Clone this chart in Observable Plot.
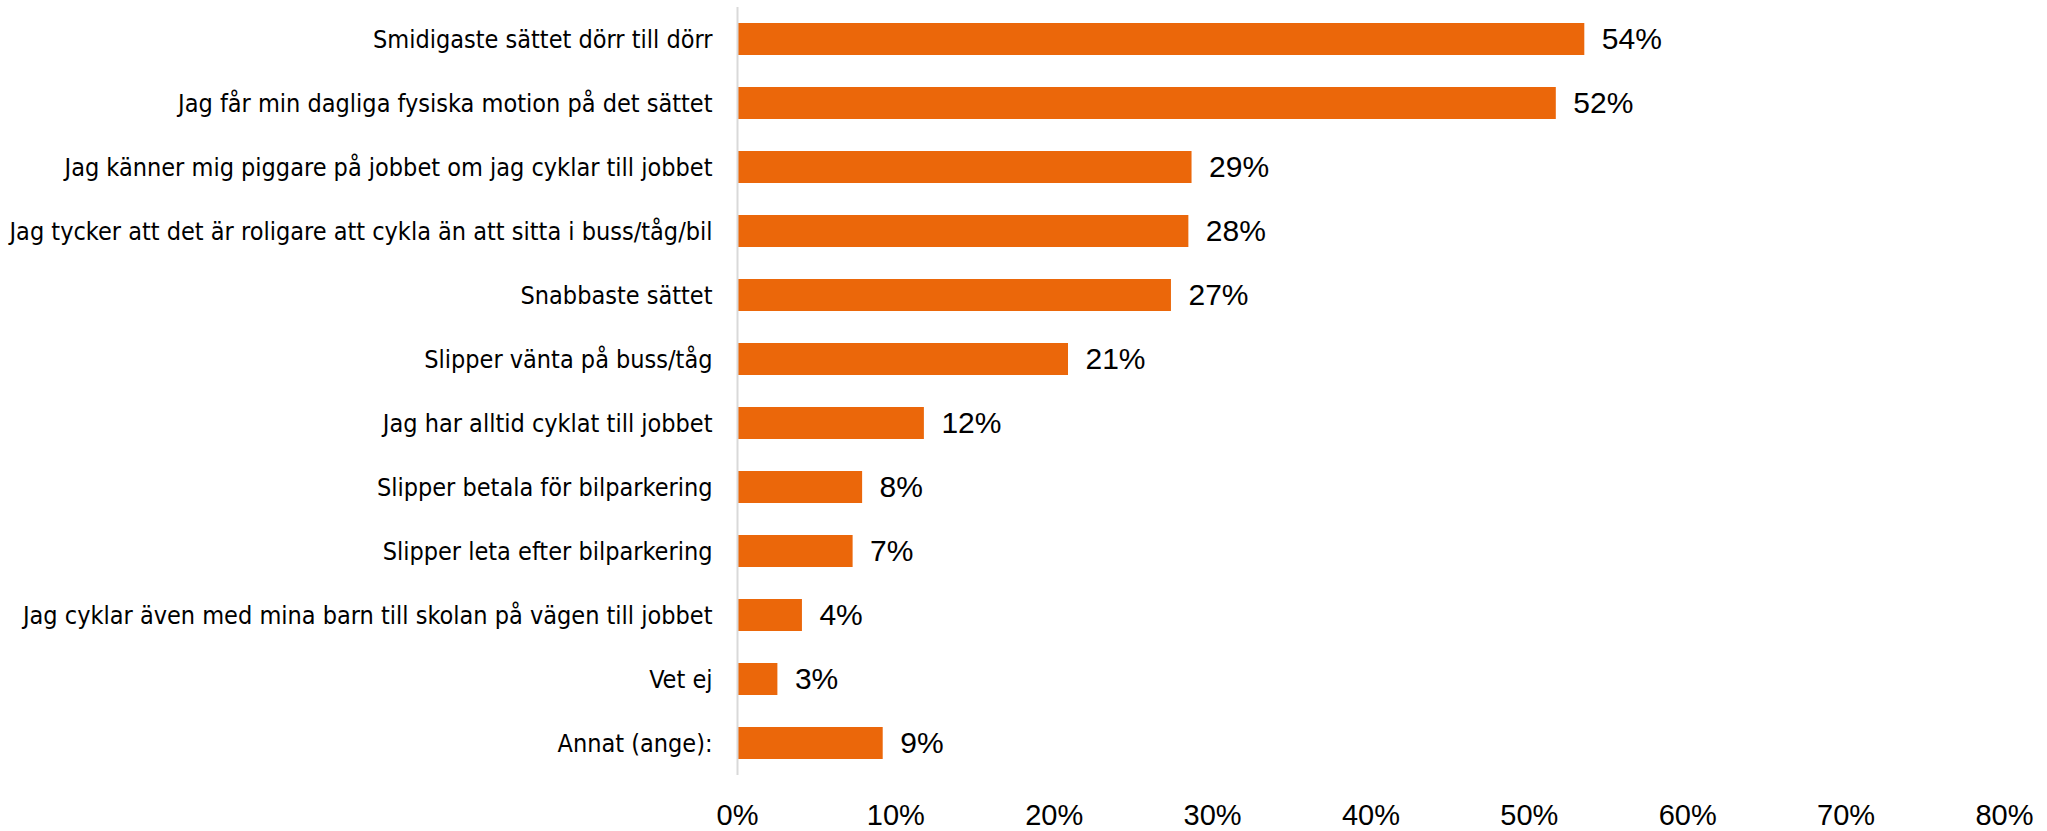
<!DOCTYPE html>
<html><head><meta charset="utf-8">
<script src="https://cdn.jsdelivr.net/npm/d3@7"></script>
<script src="https://cdn.jsdelivr.net/npm/@observablehq/plot@0.6"></script>
<style>body{margin:0;background:#fff}</style>
</head><body><div id="chart"></div>
<script>
const categories = [
  "Smidigaste sättet dörr till dörr",
  "Jag får min dagliga fysiska motion på det sättet",
  "Jag känner mig piggare på jobbet om jag cyklar till jobbet",
  "Jag tycker att det är roligare att cykla än att sitta i buss/tåg/bil",
  "Snabbaste sättet",
  "Slipper vänta på buss/tåg",
  "Jag har alltid cyklat till jobbet",
  "Slipper betala för bilparkering",
  "Slipper leta efter bilparkering",
  "Jag cyklar även med mina barn till skolan på vägen till jobbet",
  "Vet ej",
  "Annat (ange):"
];
const values = [53.5, 51.7, 28.7, 28.5, 27.4, 20.9, 11.8, 7.9, 7.3, 4.1, 2.55, 9.2];
const valueLabels = ["54%", "52%", "29%", "28%", "27%", "21%", "12%", "8%", "7%", "4%", "3%", "9%"];
const xTicks = [0, 10, 20, 30, 40, 50, 60, 70, 80];

const data = categories.map((c, i) => ({category: c, value: values[i], label: valueLabels[i]}));

const labelFont = "'DejaVu Sans Condensed', 'Liberation Sans Narrow', sans-serif";
const numFont = "'Liberation Sans', Arial, sans-serif";

const chart = Plot.plot({
  width: 2047,
  height: 831,
  marginLeft: 737,
  marginRight: 43,
  marginTop: 7,
  marginBottom: 56,
  style: {background: "#fff", color: "#000"},
  x: {domain: [0, 80], label: null},
  y: {domain: categories, paddingInner: 0.5, paddingOuter: 0.25, label: null},
  marks: [
    Plot.barX(data, {x: "value", y: "category", fill: "#EB670A"}),
    Plot.ruleX([0], {stroke: "#D9D9D9", strokeWidth: 2}),
    Plot.text(data, {x: "value", y: "category", text: "label", textAnchor: "start", dx: 17, fontSize: 30, fontFamily: numFont, fill: "#000"}),
    Plot.axisX({ticks: xTicks, tickFormat: d => d + "%", tickSize: 0, tickPadding: 29, fontSize: 29, fontFamily: numFont, label: null}),
    Plot.axisY({tickSize: 0, tickPadding: 25, fontSize: 25, fontFamily: labelFont, label: null})
  ]
});
document.getElementById("chart").appendChild(chart);
</script>
</body></html>
